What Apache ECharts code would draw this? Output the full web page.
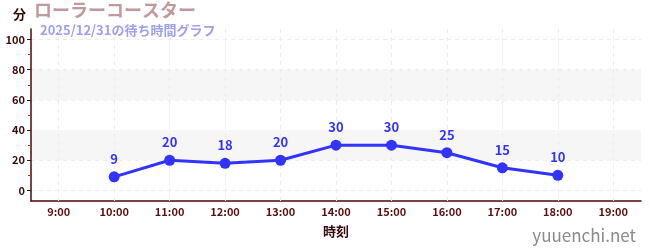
<!DOCTYPE html>
<html><head><meta charset="utf-8">
<script src="https://cdn.jsdelivr.net/npm/echarts@6/dist/echarts.min.js"></script>
<style>html,body{margin:0;padding:0;background:#fff}#c{width:650px;height:250px}</style>
</head><body><div id="c"></div>
<script>
const categories = ['9:00','10:00','11:00','12:00','13:00','14:00','15:00','16:00','17:00','18:00','19:00'];
const waitTimes = [null, 9, 20, 18, 20, 30, 30, 25, 15, 10, null];
const yMajorTicks = [0, 20, 40, 60, 80, 100];
const yMinorTicks = [10, 30, 50, 70, 90];
const titleText = 'ローラーコースター';
const subtitleText = '2025/12/31の待ち時間グラフ';
const unitText = '分';
const xName = '時刻';
const siteText = 'yuuenchi.net';

const font = '"Noto Sans CJK JP", "Noto Sans", sans-serif';
const axisColor = '#4a0a0a';
const chart = echarts.init(document.getElementById('c'), null, {renderer: 'canvas'});
chart.setOption({
  animation: false,
  textStyle: {fontFamily: font},
  graphic: [
    {type: 'text', left: 13, top: 8, style: {text: unitText, font: 'bold 13px ' + font, fill: '#3a0a0a'}},
    {type: 'text', left: 34, top: 1, style: {text: titleText, font: 'bold 18px ' + font, fill: '#c09a9a'}},
    {type: 'text', left: 40, top: 24, style: {text: subtitleText, font: 'bold 13px ' + font, fill: '#9f9ff0'}},
    {type: 'text', right: 14, bottom: 6, style: {text: siteText, font: '17px ' + font, fill: '#8a8a8a'}}
  ],
  grid: {left: 31, right: 9, top: 29, bottom: 49},
  xAxis: {
    type: 'category', data: categories, boundaryGap: true,
    name: xName, nameLocation: 'middle', nameGap: 24,
    nameTextStyle: {color: '#3a0a0a', fontWeight: 'bold', fontSize: 13, fontFamily: font, verticalAlign: 'top'},
    axisLine: {onZero: false, lineStyle: {color: axisColor, width: 1.5}},
    axisTick: {alignWithLabel: true, length: 4, lineStyle: {color: '#666'}},
    axisLabel: {color: '#5a1010', fontSize: 11, fontWeight: 'bold', margin: 5, fontFamily: font},
    splitLine: {show: false}
  },
  yAxis: [{
    type: 'value', min: -7, max: 107,
    axisLine: {show: true, lineStyle: {color: axisColor, width: 1.5}},
    axisTick: {show: true, customValues: yMajorTicks, length: 4, lineStyle: {color: '#222'}},
    axisLabel: {customValues: yMajorTicks, color: '#3a0a0a', fontSize: 11, fontWeight: 'bold', margin: 6, fontFamily: font},
    splitLine: {show: true, lineStyle: {color: '#ececec', type: [4, 4]}},
    splitArea: {show: false}
  }, {
    type: 'value', min: -7, max: 107, position: 'left',
    axisLine: {show: false},
    axisTick: {show: true, customValues: yMinorTicks, length: 3, lineStyle: {color: '#d02020'}},
    axisLabel: {show: false},
    splitLine: {show: false}
  }],
  series: [{
    type: 'line', data: [], yAxisIndex: 0, silent: true, z: 1,
    markLine: {silent: true, z: 1, symbol: 'none', label: {show: false},
      lineStyle: {color: '#ececec', type: [4, 4], width: 1},
      data: categories.map(c => ({xAxis: c}))},
    markArea: {silent: true, z: 0, itemStyle: {color: '#f6f6f6'}, label: {show: false},
      data: [[{yAxis: 20}, {yAxis: 40}], [{yAxis: 60}, {yAxis: 80}]]}
  }, {
    type: 'line', data: waitTimes, yAxisIndex: 0,
    symbol: 'circle', symbolSize: 11, showAllSymbol: true,
    lineStyle: {color: '#3333ff', width: 3},
    itemStyle: {color: '#3333ff'},
    label: {show: true, position: 'top', distance: 6, color: '#3333ff', fontWeight: 'bold', fontSize: 13, fontFamily: font},
    z: 3
  }]
});
</script></body></html>
